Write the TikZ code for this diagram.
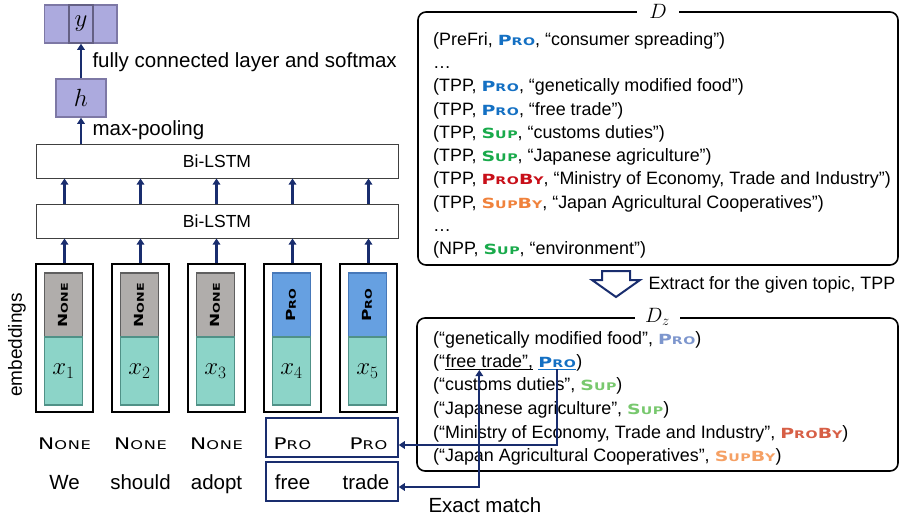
\documentclass[tikz,border=0pt]{standalone}
\usepackage[no-math]{fontspec}
\setmainfont{Liberation Sans}
\newfontfamily\scfont{DejaVu Sans}[LetterSpace=4]
\usepackage{xcolor}
\usepackage{graphicx}
\usepackage{tikz}
\usetikzlibrary{arrows.meta,positioning,calc}
\definecolor{mynavy}{RGB}{25,45,110}
\definecolor{mylav}{RGB}{172,170,222}
\definecolor{mylavdark}{RGB}{125,120,165}
\definecolor{mygrayfill}{RGB}{176,173,171}
\definecolor{mygraydraw}{RGB}{95,95,95}
\definecolor{myteal}{RGB}{140,212,200}
\definecolor{mytealdark}{RGB}{80,145,135}
\definecolor{myblue}{RGB}{102,160,225}
\definecolor{mybluedark}{RGB}{70,120,185}
\definecolor{dpro}{RGB}{20,112,195}
\definecolor{dsup}{RGB}{25,170,75}
\definecolor{dproby}{RGB}{200,15,25}
\definecolor{dsupby}{RGB}{240,130,60}
\definecolor{zpro}{RGB}{125,150,205}
\definecolor{zsup}{RGB}{120,200,110}
\definecolor{zproby}{RGB}{215,95,70}
\definecolor{zsupby}{RGB}{245,160,100}
% fake small caps, set wide
\newcommand{\fsc}[2]{#1\scalebox{0.75}{#2}}
\newcommand{\wide}[1]{\scalebox{1.35}[1]{#1}}
\newcommand{\tagfont}{\fontsize{14}{19}\scfont\bfseries}
\newcommand{\tPro}{{\tagfont\wide{\fsc{P}{RO}}}}
\newcommand{\tSup}{{\tagfont\wide{\fsc{S}{UP}}}}
\newcommand{\tProBy}{{\tagfont\wide{\fsc{P}{RO}\fsc{B}{Y}}}}
\newcommand{\tSupBy}{{\tagfont\wide{\fsc{S}{UP}\fsc{B}{Y}}}}

\begin{document}
\begin{tikzpicture}[x=1pt, y=-1pt, font=\fontsize{20.5}{23.3}\selectfont,
  outcell/.style={draw=mylavdark, fill=mylav, line width=1.5pt,
                  minimum width=24pt, minimum height=38pt, inner sep=0pt,
                  font=\fontsize{25}{27}\selectfont},
  lstm/.style={draw=black!75, line width=1pt, minimum width=362pt,
               minimum height=34pt, font=\fontsize{17.5}{20}\selectfont},
  embbox/.style={draw=black, line width=1.5pt, minimum width=57pt, minimum height=148pt},
  nonetag/.style={draw=mygraydraw, fill=mygrayfill, line width=1.8pt, rotate=90,
                  minimum width=64pt, minimum height=38pt, inner sep=0pt,
                  font=\fontsize{12.5}{15}\scfont\bfseries},
  protag/.style={nonetag, draw=mybluedark, fill=myblue},
  xbox/.style={draw=mytealdark, fill=myteal, line width=1.5pt,
               minimum width=38pt, minimum height=68pt, font=\fontsize{27}{29}\selectfont},
  rowlbl/.style={anchor=base, font=\fontsize{16}{20}\scfont},
  rowbox/.style={draw=mynavy, line width=1.5pt, minimum width=132pt, minimum height=39pt},
  conn/.style={draw=mynavy, line width=2.2pt},
  upconn/.style={conn, -{Triangle[length=6pt,width=7.5pt]}},
  listframe/.style={draw=black, line width=1.6pt, rounded corners=8pt},
  rtxt/.style={font=\fontsize{17.9}{23.3}\selectfont},
  ltxt/.style={rtxt, anchor=base west, inner sep=0pt},
]
\useasboundingbox (0,0) rectangle (899,520);

% output layer
\node[outcell] (ya) at (56.5,24) {};
\node[outcell] (yc) at (105,24) {};
\node[outcell, draw=mylavdark!80!black] (y) at (81,24) {$y$};
\node[outcell, minimum width=50pt] (h) at (81,98) {$h$};
\draw[upconn] (h) -- (y);
\node[anchor=west] (fcl) at (89,62) {fully connected layer and softmax};

\node[lstm] (lstm2) at (217,161) {Bi-LSTM};
\node[lstm] (lstm1) at (217,221) {Bi-LSTM};
\draw[upconn] (h.south |- lstm2.north) -- (h);
\node[anchor=west] (mp) at (89,130) {max-pooling};

% embeddings
\foreach \i/\x in {1/64.5,2/140.5,3/216.5,4/292.5,5/368.5}{
  \node[embbox] (e\i) at (\x,338) {};
  \ifnum\i<4
    \node[nonetag] (t\i) at (\x-1,305) {\wide{\fsc{N}{ONE}}};
    \node[rowlbl] (l\i) at (\x,449.5) {\wide{\fsc{N}{ONE}}};
  \else
    \node[protag] (t\i) at (\x-1,305) {\wide{\fsc{P}{RO}}};
    \node[rowlbl] (l\i) at (\x,449.5) {\wide{\fsc{P}{RO}}};
  \fi
  \node[xbox] (x\i) at (\x-1,371) {$x_{\i}$};
  \draw[upconn] (e\i) -- (lstm1.south -| e\i);
  \draw[upconn] (lstm1.north -| e\i) -- (lstm2.south -| e\i);
}
\node[rotate=90, font=\fontsize{19}{22}\selectfont] (embl) at (17,345) {embeddings};

% words
\foreach \i/\x/\w in {1/64.5/We,2/140.5/should,3/216.5/adopt,4/292.5/free,5/366/trade}
  \node[anchor=base] (w\i) at (\x,489.5) {\w};
\node[rowbox] (tagrow) at (332,437.5) {};
\node[rowbox] (wordrow) at (332,481.5) {};

% dictionary D
\node[listframe, minimum width=480pt, minimum height=253pt] (dbox) at (658,138.5) {};
\node[fill=white, inner xsep=12pt, inner ysep=1pt] (dlbl) at (dbox.north) {$D$};
\node[rtxt, anchor=north west, align=left, inner sep=0pt] (dlist) at (433,32) {%
  (PreFri, \textcolor{dpro}{\tPro}, “consumer spreading”)\\
  …\\
  (TPP, \textcolor{dpro}{\tPro}, “genetically modified food”)\\
  (TPP, \textcolor{dpro}{\tPro}, “free trade”)\\
  (TPP, \textcolor{dsup}{\tSup}, “customs duties”)\\
  (TPP, \textcolor{dsup}{\tSup}, “Japanese agriculture”)\\
  (TPP, \textcolor{dproby}{\tProBy}, “Ministry of Economy, Trade and Industry”)\\
  (TPP, \textcolor{dsupby}{\tSupBy}, “Japan Agricultural Cooperatives”)\\
  …\\
  (NPP, \textcolor{dsup}{\tSup}, “environment”)};

% hollow arrow
\draw[mynavy, line width=2pt, fill=white, line join=miter]
  (602,271) -- (630,271) -- (630,280) -- (640,280) -- (616,297)
  -- (592,280) -- (602,280) -- cycle;
\node[rtxt, anchor=west] (extl) at (645,285) {Extract for the given topic, TPP};

% dictionary D_z
\node[listframe, minimum width=481pt, minimum height=153pt] (dzbox) at (657.5,394.5) {};
\node[fill=white, inner xsep=10pt, inner ysep=1pt] (dzlbl) at (dzbox.north) {$D_z$};
\node[ltxt] (z1) at (433,344) {(“genetically modified food”, \textcolor{zpro}{\tPro})};
\node[ltxt] (z2a) at (433,367) {(“};
\node[ltxt] (z2b) at (z2a.base east) {free trade”,};
\node[ltxt] (z2c) at ([xshift=5pt]z2b.base east) {\textcolor{dpro}{\tPro}};
\node[ltxt] (z2d) at (z2c.base east) {)};
\node[ltxt] (z3) at (433,390.5) {(“customs duties”, \textcolor{zsup}{\tSup})};
\node[ltxt] (z4) at (433,414) {(“Japanese agriculture”, \textcolor{zsup}{\tSup})};
\node[ltxt] (z5) at (433,438) {(“Ministry of Economy, Trade and Industry”, \textcolor{zproby}{\tProBy})};
\node[ltxt] (z6) at (433,461) {(“Japan Agricultural Cooperatives”, \textcolor{zsupby}{\tSupBy})};
\draw[line width=1pt] ([yshift=-2pt]z2b.base west) -- ([yshift=-2pt]z2b.base east);
\draw[dpro, line width=1pt] ([yshift=-2pt]z2c.base west) -- ([yshift=-2pt]z2c.base east);

% matching
\coordinate (ftmid) at ([xshift=34pt,yshift=-3pt]z2b.base west);
\draw[conn, {Triangle[length=6pt,width=7.5pt]}-{Triangle[length=6pt,width=7.5pt]}]
  (ftmid) |- ([yshift=-5.5pt]wordrow.east);
\draw[conn, -{Triangle[length=6pt,width=7.5pt]}]
  ([yshift=-2pt]z2c.base) |- ([yshift=-7.5pt]tagrow.east);
\node[anchor=west] (exm) at (425,505) {Exact match};
\end{tikzpicture}
\end{document}
